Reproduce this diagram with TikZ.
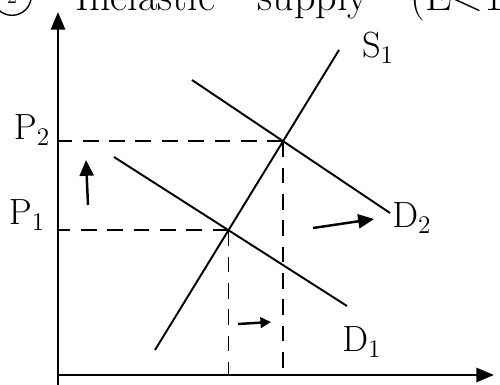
\documentclass[tikz,border=0pt]{standalone}
\usepackage{amsmath,amssymb}
\usepackage{tikz}
\usetikzlibrary{arrows.meta, positioning, intersections}

\begin{document}
\begin{tikzpicture}[x=0.02cm, y=-0.02cm,
    axis/.style={line width=1.5pt, -{Triangle[length=10pt,width=8pt]}},
    curve/.style={line width=1.1pt},
    guide/.style={line width=1.1pt, dash pattern=on 9pt off 6pt},
    shiftarrow/.style={line width=1.4pt, -{Triangle[length=9pt,width=8pt]}},
    lbl/.style={font=\fontsize{20}{22}\selectfont, inner sep=1pt}]
    \useasboundingbox (0,0) rectangle (500,385);
    \clip (0,0) rectangle (500,385);

    % title, cut off at the top
    \node[draw, circle, line width=0.8pt, minimum size=22pt, inner sep=0pt,
      font=\large] (num) at (12,-4) {2};
    \node[anchor=base west, font=\fontsize{24}{26}\selectfont, inner sep=0pt]
      (title) at (75,11) {Inelastic\quad supply\quad (E<1)};

    % axes
    \coordinate (ybot) at (58,385);
    \coordinate (ytop) at (58,12);
    \coordinate (xbeg) at (58,375);
    \coordinate (xend) at (494,375);
    \draw[axis] (ybot) -- (ytop);
    \draw[axis] (xbeg) -- (xend);

    % curves
    \coordinate (s1a) at (155,350);
    \coordinate (s1b) at (339,50);
    \coordinate (d1a) at (114,157);
    \coordinate (d1b) at (347,306);
    \coordinate (d2a) at (192,80);
    \coordinate (d2b) at (390,213);
    \draw[curve, name path=S] (s1a) -- (s1b);
    \draw[curve, name path=D1] (d1a) -- (d1b);
    \draw[curve, name path=D2] (d2a) -- (d2b);
    \path[name intersections={of=S and D1, by=E1}];
    \path[name intersections={of=S and D2, by=E2}];

    % guide lines
    \draw[guide] (E1) -- (E1 -| ybot);
    \draw[guide] (E1) -- (E1 |- xbeg);
    \draw[guide] (E2) -- (E2 -| ybot);
    \draw[guide] (E2) -- (E2 |- xbeg);

    % labels
    \node[lbl] (s1) at (378,48) {$\mathrm{S}_1$};
    \node[lbl] (p2) at (32,130) {$\mathrm{P}_2$};
    \node[lbl] (p1) at (27,215) {$\mathrm{P}_1$};
    \node[lbl] (d2) at (412,218) {$\mathrm{D}_2$};
    \node[lbl] (d1) at (362,342) {$\mathrm{D}_1$};

    % shifts
    \coordinate (upa) at (88,205);
    \coordinate (upb) at (86,160);
    \coordinate (rta) at (313,228);
    \coordinate (rtb) at (374,219);
    \coordinate (qa) at (238,324);
    \coordinate (qb) at (271,322);
    \draw[shiftarrow] (upa) -- (upb);
    \draw[shiftarrow] (rta) -- (rtb);
    \draw[shiftarrow, -{Triangle[length=6pt,width=6pt]}] (qa) -- (qb);
\end{tikzpicture}
\end{document}
